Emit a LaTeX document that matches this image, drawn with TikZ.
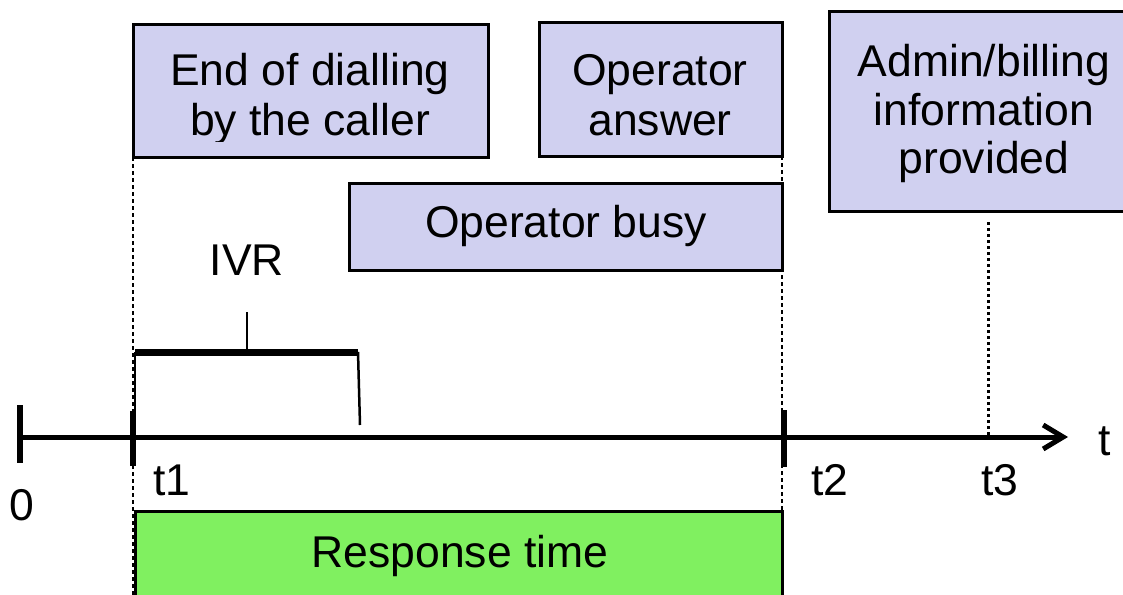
\documentclass[tikz,border=0pt]{standalone}
\usepackage{fontspec}
\setmainfont{Liberation Sans}
\usetikzlibrary{arrows.meta}
\definecolor{lav}{RGB}{208,208,240}
\definecolor{grn}{RGB}{128,240,96}
\begin{document}
\begin{tikzpicture}[x=1pt,y=-1pt,
  evbox/.style={draw=black,line width=3pt,fill=lav},
  txt/.style={font=\fontsize{44.5}{50}\selectfont,inner sep=0pt,anchor=base},
  guide/.style={line width=1.5pt,dash pattern=on 4pt off 3pt},
  tick/.style={line width=6pt},
  axis/.style={line width=5pt}]
\clip (0,0) rectangle (1123,594);
\fill[white] (0,0) rectangle (1123,594);
% guides
\coordinate (g1top) at (133,157);
\coordinate (g1bot) at (133,600);
\coordinate (g2top) at (782,23);
\coordinate (g2bot) at (782,600);
\draw[guide] (g1top) -- (g1bot);
\draw[guide] (g2top) -- (g2bot);
% boxes
\fill[lav] (133,25) rectangle (488,157);
\begin{scope}
\clip (133,25) rectangle (488,141);
\node[txt] (b1a) at (310,85) {End of dialling};
\node[txt] (b1b) at (310,135) {by the caller};
\end{scope}
\draw[line width=3pt] (133,25) rectangle (488,157);
\draw[evbox] (539,23) rectangle (782,156);
\node[txt] (b2a) at (660,85) {Operator};
\node[txt] (b2b) at (660,135) {answer};
\draw[evbox] (349,183) rectangle (782,270);
\node[txt] (b3) at (566,237) {Operator busy};
\draw[evbox] (829,12) rectangle (1140,211);
\node[txt] (b4a) at (984,77) {Admin/billing};
\node[txt] (b4b) at (984,125) {information};
\node[txt] (b4c) at (984,173) {provided};
% green
\draw[line width=3pt,fill=grn] (135,511) rectangle (782,610);
\node[txt] (rt) at (460,567) {Response time};
% dotted
\coordinate (d3top) at (988,222);
\coordinate (d3bot) at (988,437);
\draw[line width=3pt,dash pattern=on 3pt off 3pt] (d3top) -- (d3bot);
% axis
\coordinate (o) at (20,437);
\coordinate (tend) at (1068,437);
\draw[axis,-{Straight Barb[length=20pt,width=24pt,line width=5pt]}] (o) -- (tend);
\draw[tick] (20,405) -- (20,463);
\draw[tick] (133,411) -- (133,466);
\draw[tick] (784,410) -- (784,467);
% IVR brace
\draw[line width=7pt] (135,352) -- (358,352);
\draw[line width=2.5pt] (247,352) -- (247,312);
\draw[line width=2pt] (135,352) -- (135,411);
\draw[line width=2.5pt] (358,352) -- (360,425);
% labels
\node[txt] (ivr) at (247,275) {IVR};
\node[txt] (tl) at (1105,455) {t};
\node[txt] (t1) at (172,495) {t1};
\node[txt] (t2) at (830,495) {t2};
\node[txt] (t3) at (1000,495) {t3};
\node[txt] (z) at (22,520) {0};
\end{tikzpicture}
\end{document}
